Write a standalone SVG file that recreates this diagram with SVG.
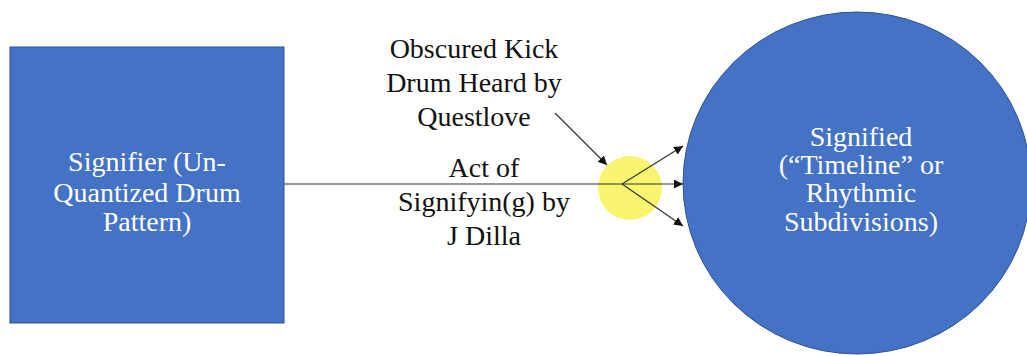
<svg xmlns="http://www.w3.org/2000/svg" width="1027" height="356" viewBox="0 0 1027 356">
<defs>
<style>
.shape{fill:#4472C4;stroke:#2F528F;stroke-width:1}
.conn{stroke:#333333;stroke-width:1.2;fill:none}
</style>
<marker id="ah" viewBox="0 0 10 10" refX="10" refY="5" markerWidth="9" markerHeight="9" markerUnits="userSpaceOnUse" orient="auto">
<path d="M0,0 L10,5 L0,10 z" fill="#111111"/>
</marker>
</defs>
<rect width="1027" height="356" fill="#ffffff"/>
<g id="signifier">
<rect class="shape" x="10" y="47" width="274" height="276"/>
<text x="147" y="171" font-family="Liberation Serif" font-size="28" fill="#ffffff" text-anchor="middle">Signifier (Un-</text>
<text x="147" y="202" font-family="Liberation Serif" font-size="28" fill="#ffffff" text-anchor="middle">Quantized Drum</text>
<text x="147" y="231" font-family="Liberation Serif" font-size="28" fill="#ffffff" text-anchor="middle">Pattern)</text>
</g>
<g id="signified">
<ellipse class="shape" cx="857" cy="183" rx="174" ry="171"/>
<text x="861" y="146" font-family="Liberation Serif" font-size="28" fill="#ffffff" text-anchor="middle">Signified</text>
<text x="861" y="174" font-family="Liberation Serif" font-size="28" fill="#ffffff" text-anchor="middle">(&#8220;Timeline&#8221; or</text>
<text x="861" y="202" font-family="Liberation Serif" font-size="28" fill="#ffffff" text-anchor="middle">Rhythmic</text>
<text x="861" y="231" font-family="Liberation Serif" font-size="28" fill="#ffffff" text-anchor="middle">Subdivisions)</text>
</g>
<g id="kick">
<circle cx="630" cy="188" r="32" fill="#F9F46F"/>
</g>
<g id="labels">
<text x="474" y="58" font-family="Liberation Serif" font-size="28" fill="#111111" text-anchor="middle">Obscured Kick</text>
<text x="474" y="92" font-family="Liberation Serif" font-size="28" fill="#111111" text-anchor="middle">Drum Heard by</text>
<text x="474" y="126" font-family="Liberation Serif" font-size="28" fill="#111111" text-anchor="middle">Questlove</text>
<text x="484" y="177" font-family="Liberation Serif" font-size="28" fill="#111111" text-anchor="middle">Act of</text>
<text x="484" y="211" font-family="Liberation Serif" font-size="28" fill="#111111" text-anchor="middle">Signifyin(g) by</text>
<text x="484" y="245" font-family="Liberation Serif" font-size="28" fill="#111111" text-anchor="middle">J Dilla</text>
</g>
<g id="connectors">
<line class="conn" x1="284" y1="184" x2="683" y2="184" marker-end="url(#ah)"/>
<line class="conn" x1="622" y1="184" x2="683" y2="146" marker-end="url(#ah)"/>
<line class="conn" x1="622" y1="184" x2="683" y2="226" marker-end="url(#ah)"/>
<line class="conn" x1="555" y1="113" x2="607" y2="165" marker-end="url(#ah)"/>
</g>
</svg>
